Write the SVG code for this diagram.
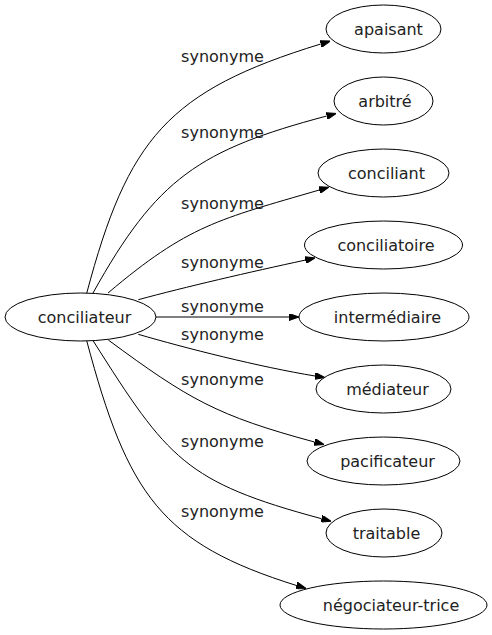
<svg xmlns="http://www.w3.org/2000/svg" width="492" height="635" viewBox="0 0 492 635">
<style>
.n ellipse{fill:#fff;stroke:#000;stroke-width:1}
text{font-family:"DejaVu Sans",sans-serif;font-size:16px;fill:#222}
.n text{text-anchor:middle}
.e path{fill:none;stroke:#000;stroke-width:1;marker-end:url(#arr)}
.e text{text-anchor:middle}
</style>
<defs>
<marker id="arr" viewBox="0 0 10 7" refX="0" refY="3.5" markerWidth="10" markerHeight="7" markerUnits="userSpaceOnUse" orient="auto">
<path d="M0,0 L10,3.5 L0,7 Z" fill="#000" stroke="#000" stroke-width="1"/>
</marker>
</defs>
<rect width="492" height="635" fill="#fff"/>
<g id="edges" class="e">
<path d="M86.7,293.3 C127.8,138.7 167.7,90.9 320.7,44"/>
<text x="222.5" y="61.5">synonyme</text>
<path d="M93,293 C157,178 199,150 326.7,116"/>
<text x="222.5" y="137.5">synonyme</text>
<path d="M108,293 C188.2,225.1 218.5,219.4 319.3,190"/>
<text x="222.5" y="208.5">synonyme</text>
<path d="M138.3,299.7 C185,287 250,272 305.3,260.1"/>
<text x="222.5" y="267.5">synonyme</text>
<path d="M156,317 L289,317"/>
<text x="222.5" y="312">synonyme</text>
<text x="222.5" y="340">synonyme</text>
<path d="M138.3,334.3 C185,348 260,367 315,376"/>
<path d="M108.3,340 C188.8,399.3 216.7,415.7 314.5,442"/>
<text x="222.5" y="385">synonyme</text>
<path d="M93.3,341 C168,459 185,482 321.5,518.7"/>
<text x="222.5" y="446.7">synonyme</text>
<path d="M86.7,340.7 C127.8,495.3 161.4,543.3 296.5,585.5"/>
<text x="222.5" y="517.3">synonyme</text>
</g>
<g id="conciliateur" class="n"><ellipse cx="80.5" cy="317" rx="75.5" ry="24"/><text x="84.5" y="323">conciliateur</text></g>
<g id="apaisant" class="n"><ellipse cx="383.5" cy="29" rx="57.5" ry="24"/><text x="388.5" y="35">apaisant</text></g>
<g id="arbitre" class="n"><ellipse cx="383.5" cy="101" rx="49.5" ry="24"/><text x="385" y="107">arbitré</text></g>
<g id="conciliant" class="n"><ellipse cx="383.5" cy="173" rx="65.5" ry="24"/><text x="386.5" y="179">conciliant</text></g>
<g id="conciliatoire" class="n"><ellipse cx="383.5" cy="245" rx="79" ry="24"/><text x="386" y="251">conciliatoire</text></g>
<g id="intermediaire" class="n"><ellipse cx="384" cy="317" rx="85" ry="24"/><text x="387.5" y="323">intermédiaire</text></g>
<g id="mediateur" class="n"><ellipse cx="383.5" cy="389" rx="67.5" ry="24"/><text x="387.5" y="395">médiateur</text></g>
<g id="pacificateur" class="n"><ellipse cx="383.5" cy="461" rx="76.5" ry="24"/><text x="387.5" y="467">pacificateur</text></g>
<g id="traitable" class="n"><ellipse cx="384" cy="533" rx="58" ry="24"/><text x="386.5" y="539">traitable</text></g>
<g id="negociateur-trice" class="n"><ellipse cx="383.5" cy="605" rx="103.5" ry="24"/><text x="391" y="611">négociateur-trice</text></g>
</svg>
